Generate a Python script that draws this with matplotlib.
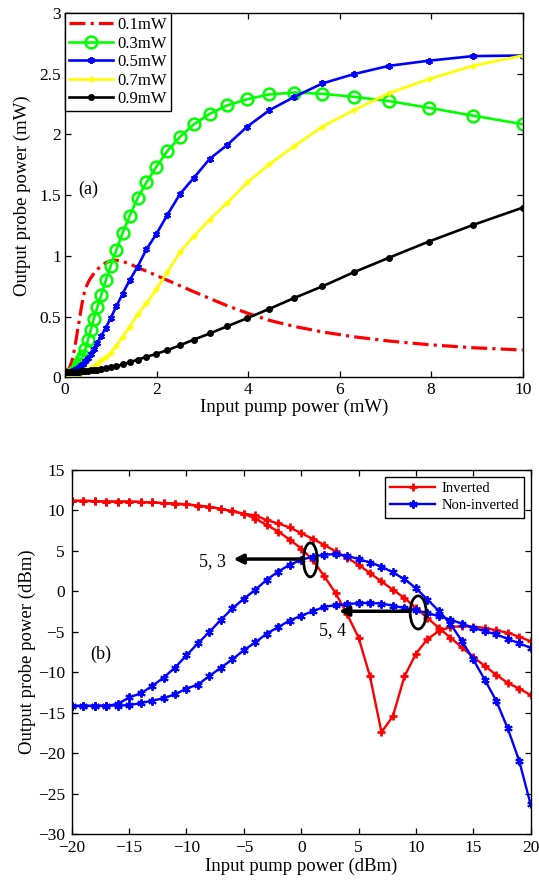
import numpy as np
import matplotlib
matplotlib.use("Agg")
import matplotlib.pyplot as plt
from matplotlib.patches import Ellipse

plt.rcParams['font.family'] = ['Liberation Serif', 'DejaVu Serif']
plt.rcParams['mathtext.fontset'] = 'stix'

# (a) pump sweep in 0.5 dB steps, plotted in mW
pump_dbm_a = np.arange(-20, 10.5, 0.5)
pump_mw_a = 10 ** (pump_dbm_a / 10)

probe_01 = [0.05, 0.05, 0.05, 0.05, 0.051, 0.051, 0.052, 0.053, 0.054, 0.055,
            0.056, 0.058, 0.06, 0.062, 0.064, 0.066, 0.068, 0.07, 0.072, 0.075,
            0.08, 0.095, 0.11, 0.125, 0.145, 0.175, 0.22, 0.27, 0.33, 0.41,
            0.48, 0.57, 0.665, 0.73, 0.78, 0.82, 0.855, 0.89, 0.92, 0.945,
            0.96, 0.965, 0.955, 0.935, 0.905, 0.875, 0.84, 0.80, 0.755, 0.705,
            0.65, 0.59, 0.53, 0.47, 0.42, 0.375, 0.335, 0.30, 0.27, 0.245, 0.226]
probe_03 = [0.0, 0.0, 0.0, 0.0, 0.0, 0.001, 0.001, 0.002, 0.002, 0.003,
            0.003, 0.004, 0.005, 0.006, 0.007, 0.008, 0.009, 0.010, 0.012, 0.014,
            0.016, 0.019, 0.022, 0.026, 0.03, 0.035, 0.042, 0.052, 0.065, 0.085,
            0.11, 0.14, 0.175, 0.235, 0.31, 0.39, 0.485, 0.58, 0.68, 0.80,
            0.92, 1.05, 1.19, 1.33, 1.475, 1.605, 1.735, 1.865, 1.98, 2.085,
            2.17, 2.24, 2.29, 2.33, 2.345, 2.335, 2.31, 2.275, 2.22, 2.155, 2.085]
probe_05 = [0.025, 0.025, 0.026, 0.026, 0.027, 0.027, 0.028, 0.028, 0.029, 0.029,
            0.03, 0.031, 0.032, 0.032, 0.033, 0.034, 0.035, 0.036, 0.037, 0.038,
            0.04, 0.042, 0.044, 0.047, 0.05, 0.054, 0.058, 0.064, 0.07, 0.078,
            0.088, 0.10, 0.115, 0.135, 0.16, 0.19, 0.235, 0.285, 0.345, 0.41,
            0.49, 0.585, 0.69, 0.80, 0.91, 1.055, 1.18, 1.34, 1.51, 1.645,
            1.80, 1.915, 2.065, 2.20, 2.31, 2.42, 2.497, 2.565, 2.607, 2.645, 2.65]
probe_07 = [0.015, 0.015, 0.015, 0.016, 0.016, 0.016, 0.016, 0.017, 0.017, 0.017,
            0.017, 0.018, 0.018, 0.018, 0.018, 0.019, 0.019, 0.019, 0.019, 0.02,
            0.02, 0.021, 0.022, 0.023, 0.024, 0.025, 0.026, 0.028, 0.03, 0.033,
            0.037, 0.043, 0.05, 0.058, 0.068, 0.078, 0.092, 0.115, 0.14, 0.165,
            0.205, 0.26, 0.335, 0.415, 0.52, 0.61, 0.725, 0.87, 1.03, 1.165,
            1.30, 1.44, 1.605, 1.755, 1.905, 2.065, 2.20, 2.34, 2.455, 2.565, 2.65]
probe_09 = [0.043, 0.043, 0.043, 0.043, 0.043, 0.043, 0.043, 0.043, 0.043, 0.043,
            0.043, 0.043, 0.043, 0.043, 0.043, 0.043, 0.044, 0.044, 0.044, 0.044,
            0.044, 0.044, 0.045, 0.045, 0.045, 0.046, 0.046, 0.047, 0.047, 0.048,
            0.049, 0.05, 0.051, 0.053, 0.055, 0.058, 0.061, 0.065, 0.07, 0.076,
            0.083, 0.094, 0.107, 0.125, 0.147, 0.169, 0.195, 0.225, 0.265, 0.312,
            0.362, 0.422, 0.488, 0.565, 0.655, 0.75, 0.866, 0.986, 1.118, 1.255, 1.398]

# (b) pump sweep in 1 dB steps
pump_dbm_b = np.arange(-20, 21, 1)
inv_53 = [11.2, 11.2, 11.15, 11.1, 11.1, 11.1, 11.05, 11.0, 10.9, 10.85,
          10.75, 10.6, 10.45, 10.2, 9.9, 9.6, 9.0, 8.2, 7.4, 6.4,
          5.3, 3.9, 1.9, -0.2, -2.8, -5.7, -10.5, -17.4, -15.4, -10.5,
          -7.7, -5.9, -4.9, -4.4, -4.3, -4.35, -4.5, -4.8, -5.1, -5.6, -6.15]
inv_54 = [11.2, 11.2, 11.15, 11.1, 11.1, 11.1, 11.05, 11.0, 10.9, 10.85,
          10.75, 10.6, 10.45, 10.2, 9.9, 9.6, 9.4, 8.8, 8.4, 7.9,
          7.2, 6.5, 5.75, 4.95, 4.15, 3.3, 2.26, 1.23, 0.2, -0.8,
          -2.05, -3.27, -4.5, -5.7, -6.9, -8.1, -9.2, -10.3, -11.3, -12.0, -12.8]
noninv_53 = [-14.15, -14.15, -14.15, -14.15, -13.9, -13.1, -12.6, -11.7, -10.65, -9.4,
             -7.9, -6.4, -5.0, -3.5, -2.1, -0.9, 0.2, 1.45, 2.45, 3.3,
             3.9, 4.3, 4.55, 4.6, 4.4, 4.0, 3.57, 3.08, 2.34, 1.52,
             0.41, -1.0, -2.4, -4.0, -6.1, -8.4, -10.9, -13.5, -16.9, -20.9, -26.3]
noninv_54 = [-14.15, -14.15, -14.1, -14.1, -14.1, -14.05, -13.8, -13.5, -13.2, -12.7,
             -12.0, -11.5, -10.45, -9.4, -8.4, -7.25, -6.3, -5.2, -4.4, -3.6,
             -3.0, -2.45, -1.9, -1.7, -1.6, -1.43, -1.43, -1.5, -1.76, -2.05,
             -2.33, -2.66, -3.07, -3.48, -3.97, -4.5, -4.9, -5.3, -5.86, -6.4, -6.96]

fig = plt.figure(figsize=(5.39, 8.83), dpi=100)
ax1 = fig.add_axes([0.1206, 0.5725, 0.8492, 0.4128])
ax2 = fig.add_axes([0.1332, 0.0552, 0.8512, 0.4125])

lw = 1.9
ax1.plot(pump_mw_a, probe_01, color='r', ls=(0, (5, 1.6, 1, 1.6)), lw=2.3,
         label='0.1mW')
ax1.plot(pump_mw_a, probe_03, color=(0, 1, 0), lw=lw, marker='o', ms=8.5,
         mfc='none', mew=1.8, label='0.3mW')
ax1.plot(pump_mw_a, probe_05, color='b', lw=lw, marker=(6, 2, 0), ms=5,
         mew=1.4, label='0.5mW')
ax1.plot(pump_mw_a, probe_07, color=(1, 1, 0), lw=lw, marker='+', ms=5,
         mew=1.8, label='0.7mW')
ax1.plot(pump_mw_a, probe_09, color='k', lw=lw, marker='o', ms=4,
         label='0.9mW')

ax1.set_xlim(0, 10)
ax1.set_ylim(0, 3)
ax1.set_xticks([0, 2, 4, 6, 8, 10])
ax1.set_yticks([0, 0.5, 1, 1.5, 2, 2.5, 3])
ax1.set_yticklabels(['0', '0.5', '1', '1.5', '2', '2.5', '3'])
ax1.set_xlabel('Input pump power (mW)', fontsize=13.5, labelpad=1)
ax1.set_ylabel('Output probe power (mW)', fontsize=13.5, labelpad=6)
ax1.text(0.5, 1.55, '(a)', fontsize=13, ha='center', va='center')
leg1 = ax1.legend(loc='upper left', fontsize=12, handlelength=2.6,
                  labelspacing=0.15, borderaxespad=0, fancybox=False,
                  framealpha=1, edgecolor='k', numpoints=1,
                  borderpad=0.25, handletextpad=0.3)
leg1.get_frame().set_linewidth(1.0)

ax2.plot(pump_dbm_b, inv_53, color='r', lw=1.7, marker='+', ms=6, mew=2,
         label='Inverted')
ax2.plot(pump_dbm_b, inv_54, color='r', lw=1.7, marker='+', ms=6, mew=2)
ax2.plot(pump_dbm_b, noninv_53, color='b', lw=1.7, marker=(6, 2, 0), ms=6,
         mew=1.4, label='Non-inverted')
ax2.plot(pump_dbm_b, noninv_54, color='b', lw=1.7, marker=(6, 2, 0), ms=6,
         mew=1.4)

ax2.add_patch(Ellipse((0.8, 3.9), 1.2, 4.2, fill=False, ec='k', lw=2, zorder=5))
ax2.add_patch(Ellipse((10.2, -2.6), 1.4, 4.1, fill=False, ec='k', lw=2, zorder=5))
ax2.annotate('', xy=(-5.9, 4.0), xytext=(0.2, 4.0), zorder=6,
             arrowprops=dict(arrowstyle='-|>', lw=2.5, color='k',
                             mutation_scale=14, shrinkA=0, shrinkB=0))
ax2.annotate('', xy=(3.3, -2.45), xytext=(9.5, -2.45), zorder=6,
             arrowprops=dict(arrowstyle='-|>', lw=2.5, color='k',
                             mutation_scale=14, shrinkA=0, shrinkB=0))
ax2.text(-7.7, 3.7, '5, 3', fontsize=13, ha='center', va='center')
ax2.text(2.7, -4.8, '5, 4', fontsize=13, ha='center', va='center')
ax2.text(-17.5, -7.8, '(b)', fontsize=13, ha='center', va='center')

ax2.set_xlim(-20, 20)
ax2.set_ylim(-30, 15)
ax2.set_xticks(np.arange(-20, 21, 5))
ax2.set_yticks(np.arange(-30, 16, 5))
ax2.set_xlabel('Input pump power (dBm)', fontsize=13.5, labelpad=1)
ax2.set_ylabel('Output probe power (dBm)', fontsize=13.5, labelpad=1)
leg2 = ax2.legend(loc='upper right', fontsize=10.5, handlelength=3.1,
                  labelspacing=0.3, borderaxespad=0.45, fancybox=False,
                  framealpha=1, edgecolor='k', numpoints=1,
                  borderpad=0.35, handletextpad=0.4)
leg2.get_frame().set_linewidth(1.0)

for ax in (ax1, ax2):
    ax.tick_params(direction='in', top=True, right=True, length=4,
                   width=0.9, labelsize=12.5, pad=3)
    for s in ax.spines.values():
        s.set_linewidth(1.0)
ax2.tick_params(axis='y', pad=5)
ax2.tick_params(axis='x', pad=4)

fig.savefig('out.png', dpi=100)
